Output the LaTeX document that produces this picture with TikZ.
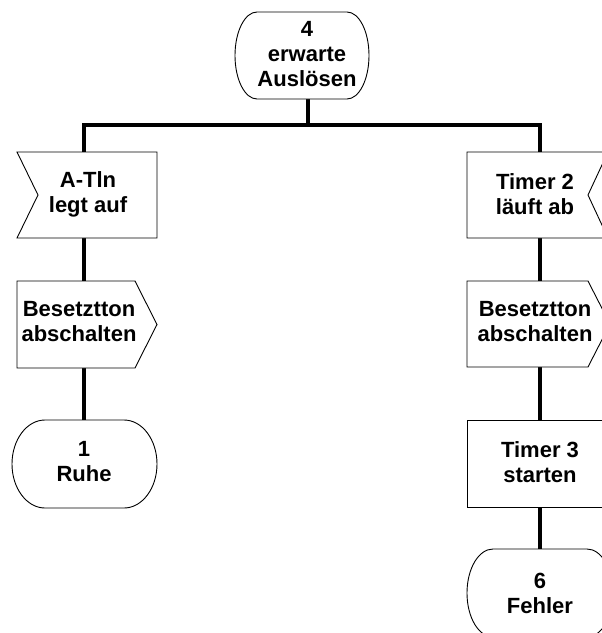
\documentclass[tikz,border=0pt]{standalone}
\usepackage{fontspec}
\setmainfont{Liberation Sans}
\newcommand\sdlstate[5]{%
 \pgfmathsetmacro\sdlmid{(#3+#4)/2}\pgfmathsetmacro\sdlry{(#4-#3)/2}%
 \draw[box] ({#1+#5},#3) -- ({#2-#5},#3)
   .. controls ({#2-0.4477*#5},#3) and (#2,{\sdlmid-0.5523*\sdlry}) .. (#2,\sdlmid)
   .. controls (#2,{\sdlmid+0.5523*\sdlry}) and ({#2-0.4477*#5},#4) .. ({#2-#5},#4)
   -- ({#1+#5},#4)
   .. controls ({#1+0.4477*#5},#4) and (#1,{\sdlmid+0.5523*\sdlry}) .. (#1,\sdlmid)
   .. controls (#1,{\sdlmid-0.5523*\sdlry}) and ({#1+0.4477*#5},#3) .. ({#1+#5},#3) -- cycle;}
\begin{document}
\begin{tikzpicture}[x=1pt,y=-1pt,
  box/.style={draw=black,line width=0.9pt,fill=white},
  conn/.style={draw=black,line width=3.6pt},
  lbl/.style={font=\bfseries\fontsize{22}{25}\selectfont,align=center,inner sep=0pt}]
\useasboundingbox (0,0) rectangle (602,633);
\clip (0,0) rectangle (602,633);
% attachment points
\coordinate (s4b) at (308,99);
\coordinate (j4) at (308,125);
\coordinate (jL) at (84,125);
\coordinate (jR) at (540,125);
\coordinate (inAt) at (84,152);
\coordinate (inAb) at (84,238);
\coordinate (outAt) at (84,281);
\coordinate (outAb) at (84,368);
\coordinate (s1t) at (84,420);
\coordinate (inBt) at (540,152);
\coordinate (inBb) at (540,238);
\coordinate (outBt) at (540,281);
\coordinate (outBb) at (540,367);
\coordinate (taskt) at (540,420);
\coordinate (taskb) at (540,507);
\coordinate (s6t) at (540,549);
% connectors
\draw[conn] (s4b) -- (j4);
\draw[conn] (inAt) -- (jL) -- (jR) -- (inBt);
\draw[conn] (inAb) -- (outAt);
\draw[conn] (outAb) -- (s1t);
\draw[conn] (inBb) -- (outBt);
\draw[conn] (outBb) -- (taskt);
\draw[conn] (taskb) -- (s6t);
% shapes
\sdlstate{235}{369}{12}{99}{22}
\draw[box] (17,152) -- (157,152) -- (157,238) -- (17,238) -- (38,195) -- cycle;
\draw[box] (17,281) -- (135,281) -- (157,324.5) -- (135,368) -- (17,368) -- cycle;
\sdlstate{12}{157}{420}{508}{33}
\draw[box] (467,152) -- (608,152) -- (588,195) -- (608,238) -- (467,238) -- cycle;
\draw[box] (467,281) -- (588,281) -- (610,324) -- (588,367) -- (467,367) -- cycle;
\draw[box] (467,420) rectangle (612,507);
\sdlstate{467}{613}{549}{637}{26}
% texts
\node[lbl] (t4) at (307,54) {4\\erwarte\\Auslösen};
\node[lbl] (tA) at (88,194) {A-Tln\\legt auf};
\node[lbl] (tOA) at (79,322) {Besetztton\\abschalten};
\node[lbl] (t1) at (84,462) {1\\Ruhe};
\node[lbl] (tB) at (535,194) {Timer 2\\läuft ab};
\node[lbl] (tOB) at (535,322) {Besetztton\\abschalten};
\node[lbl] (tT) at (540,462) {Timer 3\\starten};
\node[lbl] (t6) at (540,593) {6\\Fehler};
\end{tikzpicture}
\end{document}
